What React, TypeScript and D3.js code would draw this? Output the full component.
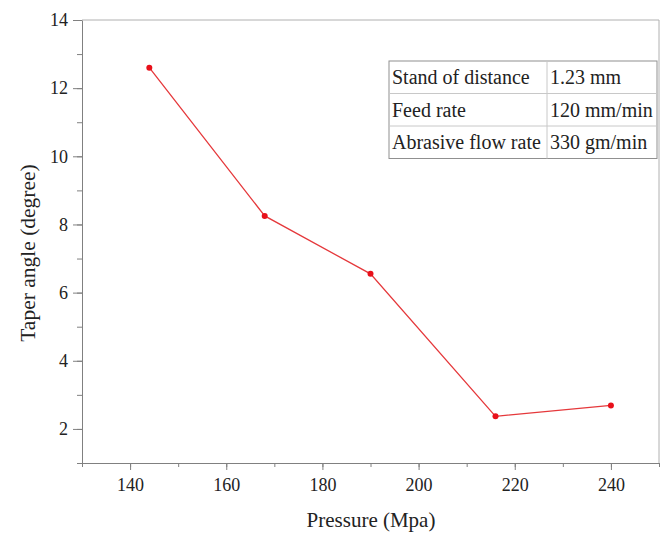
import React, { useRef, useEffect } from "react";
import * as d3 from "d3";

// pressure (MPa) vs taper angle (degree)
const pressure = [144, 168, 190, 216, 240];
const taperAngle = [12.6, 8.25, 6.55, 2.37, 2.69];

const xTicks = [140, 160, 180, 200, 220, 240];
const yTicks = [2, 4, 6, 8, 10, 12, 14];

const tableLabels = ["Stand of distance", "Feed rate", "Abrasive flow rate"];
const tableValues = ["1.23 mm", "120 mm/min", "330 gm/min"];

function App() {
  const svgRef = useRef<SVGSVGElement>(null);
  const width = 660;
  const height = 535;
  const marginLeft = 82;
  const marginRight = 1;
  const marginTop = 20;
  const marginBottom = 72;

  useEffect(() => {
    const svg = d3.select(svgRef.current);
    svg.selectAll("*").remove();

    const font = "'Liberation Serif', 'Times New Roman', serif";
    const axisColor = "#808080";
    const textColor = "#222";

    const x = d3.scaleLinear().domain([130, 250]).range([marginLeft, width - marginRight]);
    const y = d3.scaleLinear().domain([1, 14]).range([height - marginBottom, marginTop]);

    // frame (top and right)
    svg.append("path")
      .attr("d", `M${x(130)},${y(14)}H${x(250)}V${y(1)}`)
      .attr("fill", "none")
      .attr("stroke", "#b0b0b0")
      .attr("stroke-width", 1);

    // x axis: minor ticks, then major ticks with labels
    svg.append("g")
      .attr("transform", `translate(0,${y(1)})`)
      .call(d3.axisBottom(x).tickValues(d3.range(130, 251, 10)).tickSize(4).tickFormat(() => ""))
      .call(g => g.select(".domain").remove())
      .call(g => g.selectAll(".tick line").attr("stroke", axisColor));
    const gx = svg.append("g")
      .attr("transform", `translate(0,${y(1)})`)
      .call(d3.axisBottom(x).tickValues(xTicks).tickSize(7).tickPadding(8).tickSizeOuter(0));
    gx.select(".domain").attr("stroke", axisColor);
    gx.selectAll(".tick line").attr("stroke", axisColor);
    gx.selectAll(".tick text")
      .attr("font-family", font)
      .attr("font-size", 18)
      .attr("fill", textColor);

    // y axis
    svg.append("g")
      .attr("transform", `translate(${x(130)},0)`)
      .call(d3.axisLeft(y).tickValues(d3.range(1, 15, 1)).tickSize(5).tickFormat(() => ""))
      .call(g => g.select(".domain").remove())
      .call(g => g.selectAll(".tick line").attr("stroke", axisColor));
    const gy = svg.append("g")
      .attr("transform", `translate(${x(130)},0)`)
      .call(d3.axisLeft(y).tickValues(yTicks).tickSize(9).tickPadding(5).tickSizeOuter(0));
    gy.select(".domain").attr("stroke", axisColor);
    gy.selectAll(".tick line").attr("stroke", axisColor);
    gy.selectAll(".tick text")
      .attr("font-family", font)
      .attr("font-size", 18)
      .attr("fill", textColor);

    // axis titles
    svg.append("text")
      .attr("x", 371)
      .attr("y", 527)
      .attr("text-anchor", "middle")
      .attr("font-family", font)
      .attr("font-size", 21)
      .attr("fill", textColor)
      .text("Pressure (Mpa)");
    svg.append("text")
      .attr("transform", `translate(35,253) rotate(-90)`)
      .attr("text-anchor", "middle")
      .attr("font-family", font)
      .attr("font-size", 21.5)
      .attr("fill", textColor)
      .text("Taper angle (degree)");

    // data line
    const pts: [number, number][] = pressure.map((p, i) => [p, taperAngle[i]]);
    const line = d3.line<[number, number]>()
      .x(d => x(d[0]))
      .y(d => y(d[1]));
    svg.append("path")
      .datum(pts)
      .attr("d", line)
      .attr("fill", "none")
      .attr("stroke", "#e5383b")
      .attr("stroke-width", 1.3);
    svg.append("g")
      .selectAll("circle")
      .data(pts)
      .join("circle")
      .attr("cx", d => x(d[0]))
      .attr("cy", d => y(d[1]))
      .attr("r", 3)
      .attr("fill", "#e8101a");

    // parameter table
    const tLeft = 389, tTop = 61, rowH = 32.5, col1 = 158, col2 = 110;
    const table = svg.append("g");
    table.append("rect")
      .attr("x", tLeft).attr("y", tTop)
      .attr("width", col1 + col2).attr("height", rowH * 3)
      .attr("fill", "white")
      .attr("stroke", "#909090");
    table.append("line")
      .attr("x1", tLeft + col1).attr("x2", tLeft + col1)
      .attr("y1", tTop).attr("y2", tTop + rowH * 3)
      .attr("stroke", "#c8c8c8");
    [1, 2].forEach(r => {
      table.append("line")
        .attr("x1", tLeft).attr("x2", tLeft + col1 + col2)
        .attr("y1", tTop + rowH * r).attr("y2", tTop + rowH * r)
        .attr("stroke", "#c8c8c8");
    });
    tableLabels.forEach((lab, r) => {
      table.append("text")
        .attr("x", tLeft + 3)
        .attr("y", tTop + rowH * r + 23)
        .attr("font-family", font)
        .attr("font-size", 20)
        .attr("fill", textColor)
        .text(lab);
      table.append("text")
        .attr("x", tLeft + col1 + 3)
        .attr("y", tTop + rowH * r + 23)
        .attr("font-family", font)
        .attr("font-size", 20)
        .attr("fill", textColor)
        .text(tableValues[r]);
    });
  }, []);

  return (
    <svg
      ref={svgRef}
      width={width}
      height={height}
      style={{ position: "absolute", left: 0, top: 0, background: "white" }}
    ></svg>
  );
}

export default App;
